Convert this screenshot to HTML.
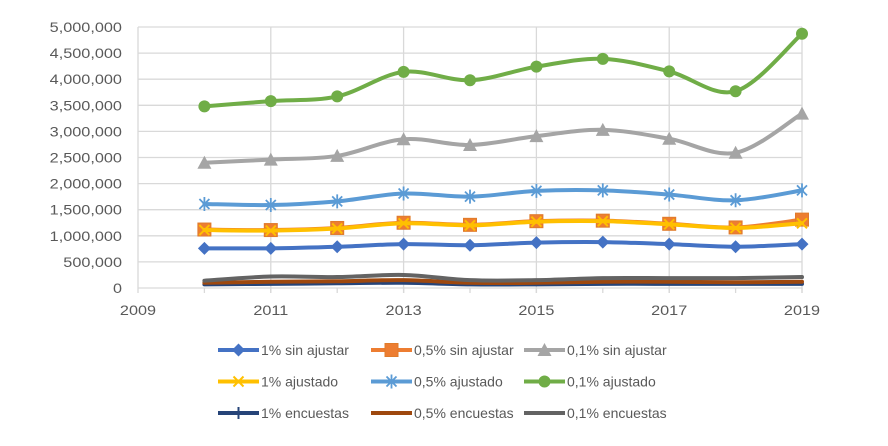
<!DOCTYPE html>
<html><head><meta charset="utf-8"><style>
body{margin:0;background:#fff;width:888px;height:441px;overflow:hidden}
svg text{font-family:"Liberation Sans",sans-serif;font-size:14px;fill:#595959}
</style></head><body>
<svg id="chart" width="888" height="441" xmlns="http://www.w3.org/2000/svg"></svg>
<script>
const years=[2010,2011,2012,2013,2014,2015,2016,2017,2018,2019];
const xTicks=[2009,2011,2013,2015,2017,2019];
const yTicks=[0,500000,1000000,1500000,2000000,2500000,3000000,3500000,4000000,4500000,5000000];
const s1SinAjustar=[760000,760000,790000,840000,820000,870000,880000,840000,790000,840000];
const s05SinAjustar=[1120000,1110000,1150000,1250000,1210000,1280000,1290000,1230000,1160000,1310000];
const s01SinAjustar=[2400000,2460000,2530000,2850000,2740000,2910000,3030000,2860000,2590000,3340000];
const s1Ajustado=[1110000,1100000,1140000,1240000,1200000,1270000,1280000,1220000,1150000,1240000];
const s05Ajustado=[1610000,1590000,1660000,1810000,1750000,1860000,1870000,1790000,1680000,1870000];
const s01Ajustado=[3480000,3580000,3670000,4140000,3980000,4240000,4390000,4150000,3770000,4870000];
const s1Encuestas=[70000,80000,90000,100000,70000,70000,80000,80000,80000,80000];
const s05Encuestas=[100000,120000,130000,150000,100000,100000,120000,120000,110000,120000];
const s01Encuestas=[140000,220000,210000,250000,150000,150000,190000,190000,190000,210000];

const svg=document.getElementById('chart');
const NS='http://www.w3.org/2000/svg';
const X0=138,X1=802,Y0=288,Y1=27;
function sx(v){return X0+(v-2009)/(2019-2009)*(X1-X0);}
function sy(v){return Y0-v/5000000*(Y0-Y1);}
function el(t,a,p){const e=document.createElementNS(NS,t);for(const k in a)e.setAttribute(k,a[k]);(p||svg).appendChild(e);return e;}
function stretch(t){const w=t.getComputedTextLength();t.setAttribute('textLength',(w*1.16).toFixed(1));t.setAttribute('lengthAdjust','spacingAndGlyphs');}

yTicks.forEach(v=>{
  const l=el('line',{x1:X0,x2:X1,y1:sy(v),y2:sy(v),stroke:'#d9d9d9','stroke-width':1.3});
  
  
  const t=el('text',{x:122,y:sy(v)+5,'text-anchor':'end'});t.textContent=v.toLocaleString('en-US');
  
  
  stretch(t);
});
xTicks.forEach(v=>{
  const l=el('line',{x1:sx(v),x2:sx(v),y1:Y1,y2:Y0+5,stroke:'#d9d9d9','stroke-width':1.3});
  
  
  const t=el('text',{x:sx(v),y:315,'text-anchor':'middle'});t.textContent=v;
  
  
  stretch(t);
});
years.forEach(v=>{const l=el('line',{x1:sx(v),x2:sx(v),y1:Y0,y2:Y0+5,stroke:'#d9d9d9','stroke-width':1.3});
  
  });

function smooth(pts){
  let d='M'+pts[0][0]+','+pts[0][1];
  for(let i=0;i<pts.length-1;i++){
    const p0=pts[i-1]||pts[i],p1=pts[i],p2=pts[i+1],p3=pts[i+2]||p2;
    const c1=[p1[0]+(p2[0]-p0[0])/6,p1[1]+(p2[1]-p0[1])/6];
    const c2=[p2[0]-(p3[0]-p1[0])/6,p2[1]-(p3[1]-p1[1])/6];
    d+=' C'+c1+' '+c2+' '+p2;
  }
  return d;
}
function marker(g,type,x,y,c){
  if(type==='diamond')el('path',{d:`M${x},${y-6.5}L${x+6.5},${y}L${x},${y+6.5}L${x-6.5},${y}Z`,fill:c},g);
  else if(type==='square')el('rect',{x:x-6.5,y:y-6.5,width:13,height:13,fill:c,stroke:'#e07b2a'},g);
  else if(type==='triangle')el('path',{d:`M${x},${y-7}L${x+7},${y+6}L${x-7},${y+6}Z`,fill:c},g);
  else if(type==='circle')el('circle',{cx:x,cy:y,r:6,fill:c},g);
  else if(type==='x')el('path',{d:`M${x-5},${y-5}L${x+5},${y+5}M${x+5},${y-5}L${x-5},${y+5}`,stroke:c,'stroke-width':2},g);
  else if(type==='star')el('path',{d:`M${x-5},${y-5}L${x+5},${y+5}M${x+5},${y-5}L${x-5},${y+5}M${x},${y-7}L${x},${y+7}`,stroke:c,'stroke-width':1.8},g);
  else if(type==='plus')el('path',{d:`M${x},${y-6}L${x},${y+6}`,stroke:c,'stroke-width':2},g);
}
const series=[
 {name:'1% encuestas',d:s1Encuestas,c:'#264478',m:'plus',key:'series-1-encuestas',show:false},
 {name:'0,5% encuestas',d:s05Encuestas,c:'#9e480e',m:'dash',key:'series-05-encuestas',show:false},
 {name:'0,1% encuestas',d:s01Encuestas,c:'#636363',m:'dash',key:'series-01-encuestas',show:false},
 {name:'1% sin ajustar',d:s1SinAjustar,c:'#4472c4',m:'diamond',key:'series-1-sin-ajustar',show:true},
 {name:'0,5% sin ajustar',d:s05SinAjustar,c:'#ed7d31',m:'square',key:'series-05-sin-ajustar',show:true},
 {name:'1% ajustado',d:s1Ajustado,c:'#ffc000',m:'x',key:'series-1-ajustado',show:true},
 {name:'0,5% ajustado',d:s05Ajustado,c:'#5b9bd5',m:'star',key:'series-05-ajustado',show:true},
 {name:'0,1% sin ajustar',d:s01SinAjustar,c:'#a5a5a5',m:'triangle',key:'series-01-sin-ajustar',show:true},
 {name:'0,1% ajustado',d:s01Ajustado,c:'#70ad47',m:'circle',key:'series-01-ajustado',show:true}
];
series.forEach(s=>{
  const g=el('g',{});
  
  
  const pts=s.d.map((v,i)=>[sx(years[i]),sy(v)]);
  el('path',{d:smooth(pts),fill:'none',stroke:s.c,'stroke-width':4,'stroke-linecap':'round'},g);
  if(s.show)pts.forEach(p=>marker(g,s.m,p[0],p[1],s.c));
});
// legend
const legendOrder=[[3,0],[4,0],[7,0],[5,1],[6,1],[8,1],[0,2],[1,2],[2,2]];
const cols=[218,371,524];
legendOrder.forEach((o,i)=>{
  const s=series[o[0]],col=i%3,row=o[1];
  const x=cols[col],y=350+row*31.5;
  const g=el('g',{});
  
  
  el('line',{x1:x,x2:x+41,y1:y,y2:y,stroke:s.c,'stroke-width':4},g);
  if(s.m!=='dash')marker(g,s.m,x+20.5,y,s.c);
  const t=el('text',{x:x+43,y:y+5},g);t.textContent=s.name;
});
</script>
</body></html>
